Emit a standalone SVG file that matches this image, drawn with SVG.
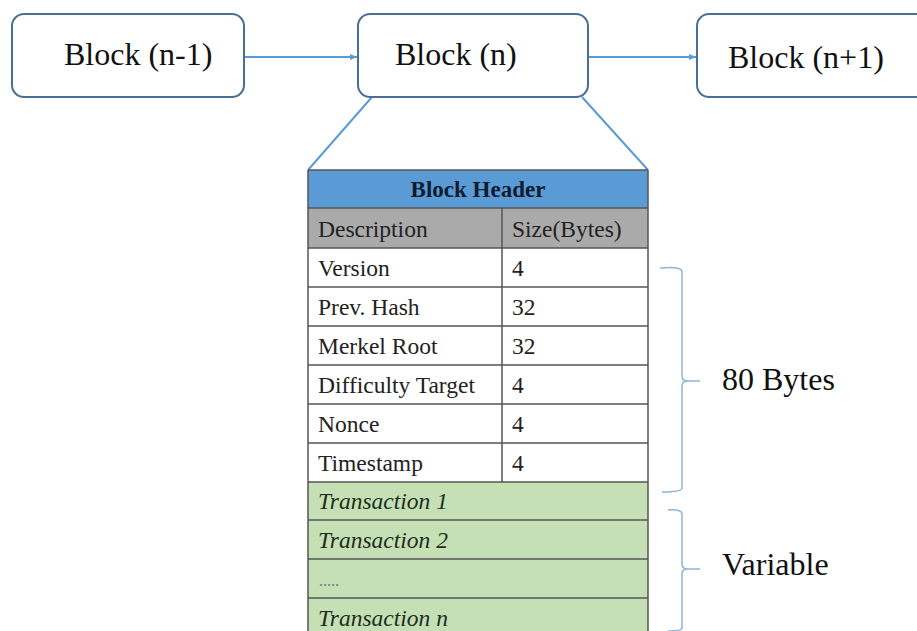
<svg xmlns="http://www.w3.org/2000/svg" width="917" height="631" viewBox="0 0 917 631">
<style>
text{font-family:"Liberation Serif","Times New Roman",Times,serif}
.box{fill:#fff;stroke:#4a6f96;stroke-width:2}
.lbl{font-size:32px;fill:#111}
.conn{stroke:#5b9bd5;stroke-width:2;fill:none}
.grid{stroke:#555;stroke-width:1.5;fill:none}
.t{font-size:23.5px;fill:#222}
.ti{font-size:23.5px;font-style:italic;fill:#1e2e1e}
.brace{stroke:#8fb4d9;stroke-width:1.5;fill:none}
</style>
<defs>
<marker id="ah" markerWidth="8" markerHeight="8" refX="7" refY="4" orient="auto" markerUnits="userSpaceOnUse">
<path d="M0,1 L7,4 L0,7 z" fill="#5b9bd5"/>
</marker>
</defs>
<g id="connectors">
<line class="conn" x1="245" y1="57" x2="357" y2="57" marker-end="url(#ah)"/>
<line class="conn" x1="589" y1="57" x2="696" y2="57" marker-end="url(#ah)"/>
<line class="conn" x1="372" y1="97" x2="308" y2="170"/>
<line class="conn" x1="582" y1="97" x2="648" y2="170"/>
</g>
<g id="block-n-1">
<rect class="box" x="12" y="14" width="232" height="83" rx="12"/>
<text class="lbl" x="64" y="65">Block (n-1)</text>
</g>
<g id="block-n">
<rect class="box" x="358" y="14" width="230" height="83" rx="12"/>
<text class="lbl" x="395" y="65">Block (n)</text>
</g>
<g id="block-n1">
<rect class="box" x="697" y="14" width="240" height="83" rx="12"/>
<text class="lbl" x="728" y="68">Block (n+1)</text>
</g>
<g id="table">
<rect x="308" y="170" width="340" height="38" fill="#5b9bd5"/>
<rect x="308" y="208" width="340" height="40" fill="#aaaaaa"/>
<rect x="308" y="248" width="340" height="234" fill="#fff"/>
<rect x="308" y="482" width="340" height="149" fill="#c5e0b4"/>
<path class="grid" d="M308,170 V631 M648,170 V631 M308,170 H648 M308,208 H648 M308,248 H648 M308,287 H648 M308,326 H648 M308,365 H648 M308,404 H648 M308,443 H648 M308,482 H648 M308,520 H648 M308,559 H648 M308,598 H648 M502,208 V482"/>
<text x="478" y="197" text-anchor="middle" font-size="23" font-weight="bold" fill="#0d1b2e">Block Header</text>
<text class="t" x="318" y="237">Description</text>
<text class="t" x="512" y="237">Size(Bytes)</text>
<text class="t" x="318" y="276">Version</text>
<text class="t" x="512" y="276">4</text>
<text class="t" x="318" y="315">Prev. Hash</text>
<text class="t" x="512" y="315">32</text>
<text class="t" x="318" y="354">Merkel Root</text>
<text class="t" x="512" y="354">32</text>
<text class="t" x="318" y="393">Difficulty Target</text>
<text class="t" x="512" y="393">4</text>
<text class="t" x="318" y="432">Nonce</text>
<text class="t" x="512" y="432">4</text>
<text class="t" x="318" y="471">Timestamp</text>
<text class="t" x="512" y="471">4</text>
<text class="ti" x="318" y="509">Transaction 1</text>
<text class="ti" x="318" y="548">Transaction 2</text>
<text x="319" y="586" font-size="16" fill="#777">.....</text>
<text class="ti" x="318" y="626">Transaction n</text>
</g>
<g id="brace-80">
<path class="brace" d="M660,268 Q682,266 682,272 V376 Q682,381 688,381 H700 M688,381 Q682,381 682,386 V488 Q682,492 662,492"/>
<text class="lbl" x="722" y="390">80 Bytes</text>
</g>
<g id="brace-var">
<path class="brace" d="M668,510 Q682,509 682,514 V564 Q682,569 688,569 H700 M688,569 Q682,569 682,574 V628 Q682,631 668,631"/>
<text class="lbl" x="722" y="575">Variable</text>
</g>
</svg>
